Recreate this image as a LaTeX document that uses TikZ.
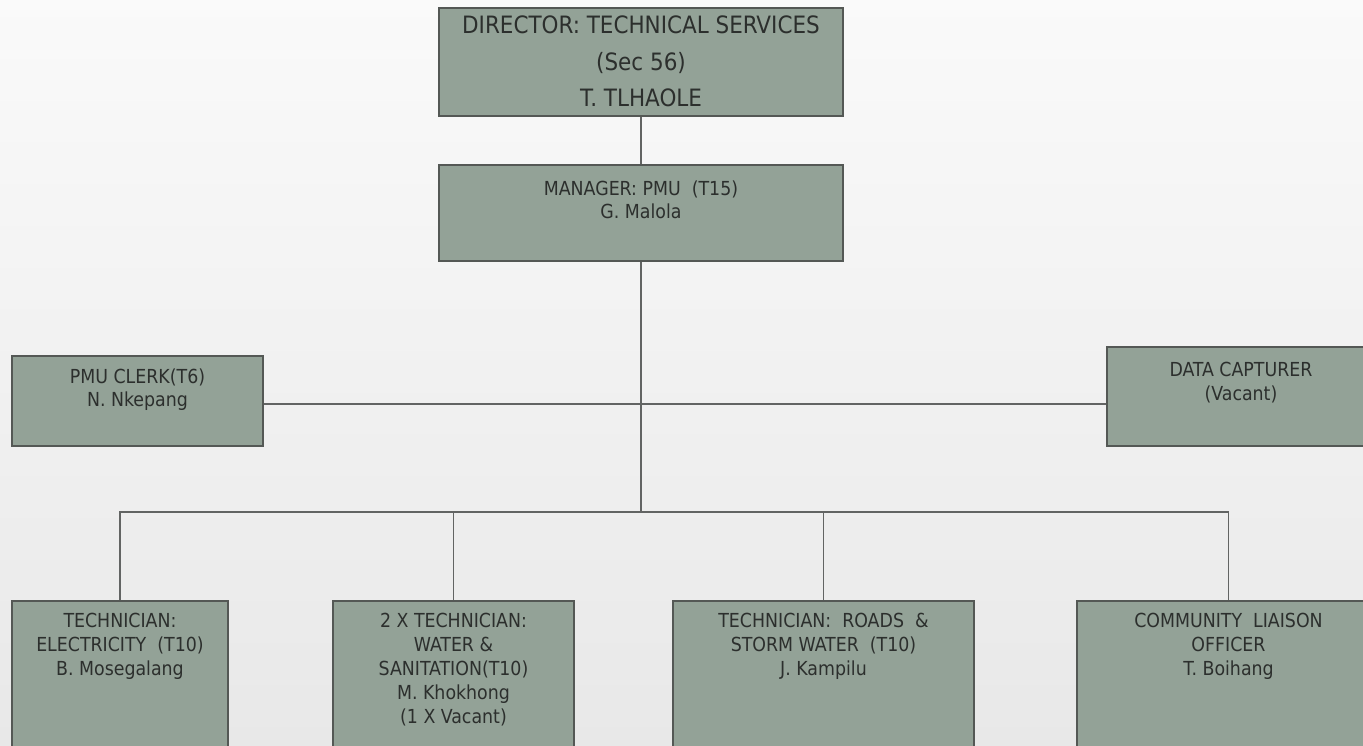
\documentclass[tikz,border=0pt]{standalone}
\usepackage{fontspec}
\setmainfont{DejaVu Sans Condensed}
\usetikzlibrary{positioning, calc}
\definecolor{boxgreen}{RGB}{147,162,151}
\definecolor{boxedge}{RGB}{84,88,85}
\definecolor{linkgray}{RGB}{98,100,99}
\definecolor{inkgray}{RGB}{44,47,45}

\begin{document}
\begin{tikzpicture}[x=0.02cm, y=-0.02cm,
    post/.style={draw=boxedge, line width=1.1pt, fill=boxgreen, inner sep=0pt},
    link/.style={draw=linkgray, line width=0.9pt},
    txt/.style={align=center, text=inkgray, inner sep=0pt,
        font=\fontsize{11}{13.6}\selectfont},
    bigtxt/.style={txt, font=\fontsize{13.6}{21}\selectfont}]

    \useasboundingbox (0,0) rectangle (1363,745);
    \shade[top color=white!98!black, bottom color=black!9] (0,0) rectangle (1363,745);

    % director and manager
    \node[post, minimum width=8.08cm, minimum height=2.16cm] (dir) at (641,62) {};
    \node[bigtxt, below=0.16cm of dir.north] (dir-t)
        {DIRECTOR: TECHNICAL SERVICES\\(Sec 56)\\T. TLHAOLE};
    \node[post, minimum width=8.08cm, minimum height=1.92cm] (mgr) at (641,213) {};
    \node[txt, below=0.32cm of mgr.north] (mgr-t) {MANAGER: PMU\ \ (T15)\\G. Malola};

    % support staff
    \node[post, minimum width=5.02cm, minimum height=1.8cm] (clerk) at (137.5,401) {};
    \node[txt, below=0.26cm of clerk.north] (clerk-t) {PMU CLERK(T6)\\N. Nkepang};
    \node[post, minimum width=5.36cm, minimum height=1.98cm] (data) at (1241,396.5) {};
    \node[txt, below=0.32cm of data.north] (data-t) {DATA CAPTURER\\(Vacant)};

    % technicians
    \node[post, minimum width=4.32cm, minimum height=3.2cm] (elec) at (120,681) {};
    \node[txt, below=0.26cm of elec.north] (elec-t)
        {TECHNICIAN:\\ELECTRICITY\ \ (T10)\\B. Mosegalang};
    \node[post, minimum width=4.82cm, minimum height=3.2cm] (water) at (453.5,681) {};
    \node[txt, below=0.26cm of water.north] (water-t)
        {2 X TECHNICIAN:\\WATER \&\\SANITATION(T10)\\M. Khokhong\\(1 X Vacant)};
    \node[post, minimum width=6.02cm, minimum height=3.2cm] (roads) at (823.5,681) {};
    \node[txt, below=0.26cm of roads.north] (roads-t)
        {TECHNICIAN:\ \ ROADS\ \ \&\\STORM WATER\ \ (T10)\\J. Kampilu};
    \node[post, minimum width=6.06cm, minimum height=3.2cm] (comm) at (1228.5,681) {};
    \node[txt, below=0.26cm of comm.north] (comm-t)
        {COMMUNITY\ \ LIAISON\\OFFICER\\T. Boihang};

    \coordinate (tie) at (641,404);
    \coordinate (bus) at (641,512);

    \draw[link] (dir.south) -- (mgr.north);
    \draw[link] (mgr.south) -- (bus);
    \draw[link] (clerk.east |- tie) -- (data.west |- tie);
    \draw[link] (elec.north) |- (bus) -| (comm.north);
    \draw[link] (water.north) -- (water.north |- bus);
    \draw[link] (roads.north) -- (roads.north |- bus);
\end{tikzpicture}
\end{document}
